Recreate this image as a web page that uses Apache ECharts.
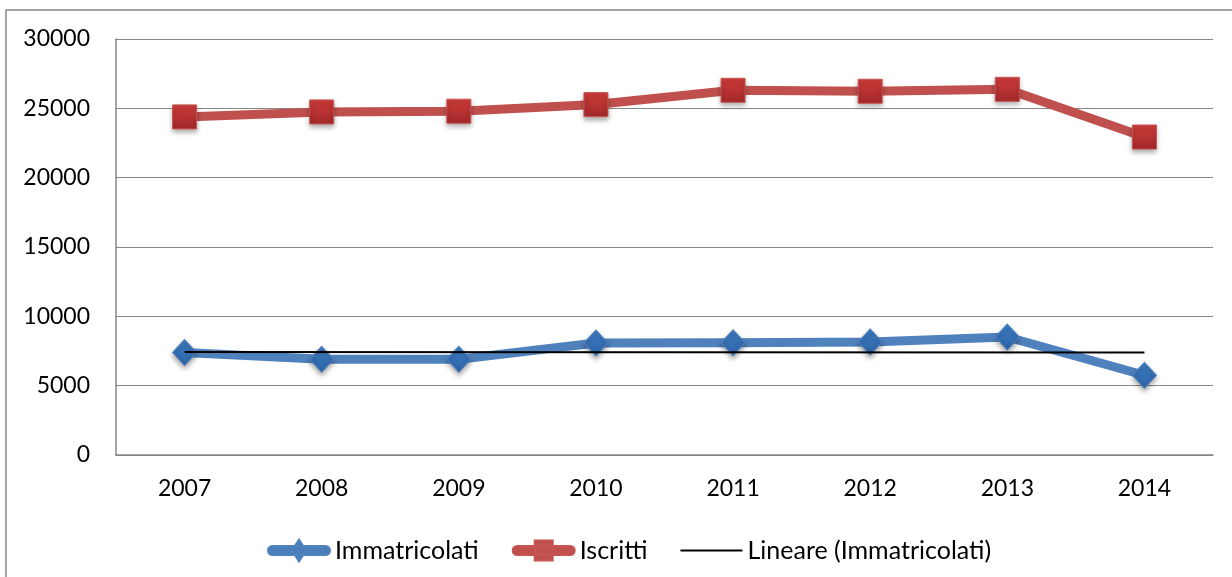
<!DOCTYPE html>
<html lang="it">
<head>
    <meta charset="UTF-8">
    <title>Immatricolati e Iscritti</title>
    <script src="https://cdn.jsdelivr.net/npm/echarts@6/dist/echarts.min.js"></script>
    <style>
        html, body { margin: 0; padding: 0; background: #fff; }
        #main { width: 1232px; height: 577px; }
    </style>
</head>
<body>
<div id="main"></div>
<script type="text/javascript">
    // dati
    var anni = ['2007', '2008', '2009', '2010', '2011', '2012', '2013', '2014'];
    var immatricolati = [7390, 6900, 6900, 8080, 8100, 8150, 8510, 5750];
    var iscritti = [24380, 24740, 24790, 25270, 26300, 26230, 26370, 22930];
    // linea di tendenza: solo estremi, il resto e' collegato
    var lineare = [7430, null, null, null, null, null, null, 7385];
    var yTicks = [0, 5000, 10000, 15000, 20000, 25000, 30000];

    var font = 'Lato, "Liberation Sans", sans-serif';
    var grigio = '#868686';

    // icone della legenda (barra spessa + simbolo)
    var iconaRombo = 'path://M4.5,7.5L57.5,7.5A4.5,4.5,0,0,1,57.5,16.5L4.5,16.5A4.5,4.5,0,0,1,4.5,7.5Z'
        + 'M31,1L38,12L31,23L24,12Z';
    var iconaQuadrato = 'path://M4.5,7.5L57.5,7.5A4.5,4.5,0,0,1,57.5,16.5L4.5,16.5A4.5,4.5,0,0,1,4.5,7.5Z'
        + 'M22,2L40,2L40,22L22,22Z';
    var iconaLinea = 'path://M0,11L62,11L62,13L0,13Z';

    var myChart = echarts.init(document.getElementById('main'));

    var option = {
        backgroundColor: '#fff',
        animation: false,
        textStyle: { fontFamily: font, color: '#000' },
        graphic: [{
            type: 'rect',
            shape: { x: 6, y: 10, width: 1400, height: 800 },
            style: { fill: 'none', stroke: grigio, lineWidth: 1.5 },
            silent: true
        }],
        grid: { left: 116, right: 19, top: 39, bottom: 122 },
        legend: {
            left: 262,
            top: 533,
            itemWidth: 62,
            itemHeight: 24,
            itemGap: 33,
            textStyle: { fontFamily: font, fontSize: 25, color: '#000' },
            data: [
                { name: 'Immatricolati', icon: iconaRombo, itemStyle: { color: '#4a7ebb' } },
                { name: 'Iscritti', icon: iconaQuadrato, itemStyle: { color: '#c0504d' } },
                { name: 'Lineare (Immatricolati)', icon: iconaLinea, itemStyle: { color: '#000' } }
            ]
        },
        xAxis: {
            type: 'category',
            data: anni,
            boundaryGap: true,
            axisLine: { lineStyle: { color: grigio, width: 1.5 } },
            axisTick: { show: false },
            axisLabel: { fontFamily: font, fontSize: 23, color: '#000', margin: 22 }
        },
        yAxis: {
            type: 'value',
            min: yTicks[0],
            max: yTicks[yTicks.length - 1],
            interval: yTicks[1] - yTicks[0],
            axisLine: { show: true, lineStyle: { color: grigio, width: 1.5 } },
            axisTick: { show: false },
            splitLine: { lineStyle: { color: grigio, width: 1.2 } },
            axisLabel: {
                fontFamily: font, fontSize: 23, color: '#000', margin: 26,
                formatter: function (v) { return String(v); }
            }
        },
        series: [
            {
                name: 'Immatricolati',
                type: 'line',
                data: immatricolati,
                symbol: 'diamond',
                symbolSize: [24, 26],
                lineStyle: { color: '#4f81bd', width: 9, cap: 'round', join: 'round' },
                itemStyle: {
                    color: new echarts.graphic.LinearGradient(0, 0, 0, 1, [
                        { offset: 0, color: '#3f7cc4' },
                        { offset: 1, color: '#2c64a6' }
                    ]),
                    borderColor: '#4f81bd',
                    borderWidth: 1,
                    shadowBlur: 5,
                    shadowOffsetY: 3,
                    shadowColor: 'rgba(0,0,0,0.35)'
                },
                z: 2
            },
            {
                name: 'Iscritti',
                type: 'line',
                data: iscritti,
                symbol: 'rect',
                symbolSize: 24,
                lineStyle: { color: '#c0504d', width: 9, cap: 'round', join: 'round' },
                itemStyle: {
                    color: new echarts.graphic.LinearGradient(0, 0, 0, 1, [
                        { offset: 0, color: '#d03c3a' },
                        { offset: 1, color: '#a2282a' }
                    ]),
                    borderColor: '#c65552',
                    borderWidth: 1,
                    shadowBlur: 5,
                    shadowOffsetY: 3,
                    shadowColor: 'rgba(0,0,0,0.35)'
                },
                z: 2
            },
            {
                name: 'Lineare (Immatricolati)',
                type: 'line',
                data: lineare,
                connectNulls: true,
                symbol: 'none',
                lineStyle: { color: '#000', width: 2 },
                itemStyle: { color: '#000' },
                z: 3
            }
        ]
    };

    myChart.setOption(option);
</script>
</body>
</html>
